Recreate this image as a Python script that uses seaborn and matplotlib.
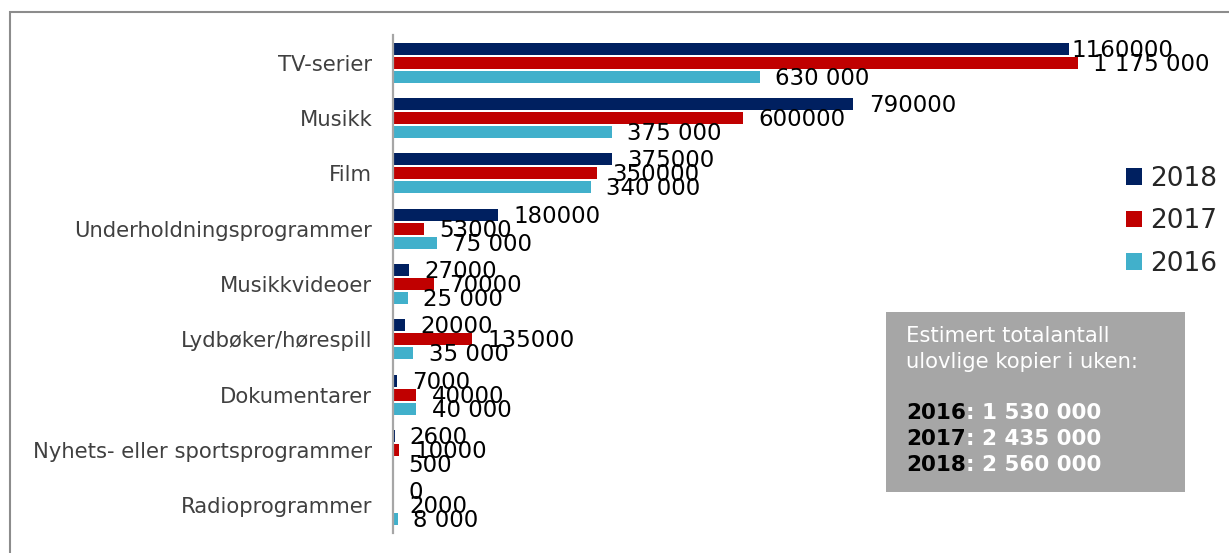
import matplotlib.pyplot as plt
import pandas as pd
import seaborn as sns
from matplotlib.patches import Rectangle
from matplotlib.text import Annotation

categories = [
    "TV-serier",
    "Musikk",
    "Film",
    "Underholdningsprogrammer",
    "Musikkvideoer",
    "Lydbøker/hørespill",
    "Dokumentarer",
    "Nyhets- eller sportsprogrammer",
    "Radioprogrammer",
]
years = ["2018", "2017", "2016"]
v2018 = [1160000, 790000, 375000, 180000, 27000, 20000, 7000, 2600, 0]
v2017 = [1175000, 600000, 350000, 53000, 70000, 135000, 40000, 10000, 2000]
v2016 = [630000, 375000, 340000, 75000, 25000, 35000, 40000, 500, 8000]
lab2018 = ["1160000", "790000", "375000", "180000", "27000", "20000", "7000", "2600", "0"]
lab2017 = ["1 175 000", "600000", "350000", "53000", "70000", "135000", "40000", "10000", "2000"]
lab2016 = ["630 000", "375 000", "340 000", "75 000", "25 000", "35 000", "40 000", "500", "8 000"]
totals = [("2016", "1 530 000"), ("2017", "2 435 000"), ("2018", "2 560 000")]
colors = ["#002060", "#C00000", "#41B0CB"]

values = {"2018": v2018, "2017": v2017, "2016": v2016}
labels = {"2018": lab2018, "2017": lab2017, "2016": lab2016}

df = pd.DataFrame(
    [(c, y, values[y][i]) for y in years for i, c in enumerate(categories)],
    columns=["kategori", "aar", "antall"],
)

sns.set_style("white")
plt.rcParams["font.family"] = ["DejaVu Sans"]

fig = plt.figure(figsize=(12.29, 5.53), dpi=100)
ax = fig.add_axes([393 / 1229, 20 / 553, 816 / 1229, 498 / 553])

sns.barplot(
    data=df, y="kategori", x="antall", hue="aar",
    order=categories, hue_order=years, palette=colors, saturation=1,
    orient="h", width=0.76, gap=0.15, ax=ax, legend=True,
    edgecolor="none",
)

ax.set_xlim(0, 1400000)
ax.set_ylim(len(categories) - 0.5, -0.5)
ax.set_xlabel("")
ax.set_ylabel("")
ax.set_xticks([])
for s in ["top", "right", "bottom"]:
    ax.spines[s].set_visible(False)
ax.spines["left"].set_color("#a6a6a6")
ax.spines["left"].set_linewidth(1.6)
ax.tick_params(axis="y", length=0, pad=15, labelsize=15.2, labelcolor="#404040")

# value labels
for year, cont in zip(years, ax.containers):
    labs = []
    for bar in cont:
        idx = int(round(bar.get_y() + bar.get_height() / 2))
        labs.append(labels[year][idx])
    texts = ax.bar_label(cont, labels=labs, padding=11, fontsize=16.5, color="black")
    for tx in texts:
        tx.xyann = (tx.xyann[0], -1)
    if year == "2018":
        # top label sits close to its bar in the original
        texts[0].xyann = (2, -1)

# legend
handles, _ = ax.get_legend_handles_labels()
ax.legend(
    handles, years, loc="upper left", bbox_to_anchor=(1126 / 1229, 1 - 166 / 553),
    bbox_transform=fig.transFigure, frameon=False, fontsize=19,
    handlelength=0.6, handleheight=0.6, handletextpad=0.3, labelspacing=0.62,
    borderpad=0, borderaxespad=0,
)

# outer frame
fig.patches.append(Rectangle((10 / 1229, -0.2), 1.2, 1.2 - 12 / 553,
                             transform=fig.transFigure, fill=False,
                             edgecolor="#8c8c8c", linewidth=1.5))

# info box
fig.patches.append(Rectangle((886 / 1229, 1 - 492 / 553), 299 / 1229, 180 / 553,
                             transform=fig.transFigure, facecolor="#a6a6a6",
                             edgecolor="none"))
fig.text(906 / 1229, 1 - 336 / 553, "Estimert totalantall", color="white",
         fontsize=15.2, va="center", ha="left")
fig.text(906 / 1229, 1 - 362 / 553, "ulovlige kopier i uken:", color="white",
         fontsize=15.2, va="center", ha="left")
for k, (yr, tot) in enumerate(totals):
    t = fig.text(906 / 1229, 1 - (413 + 26 * k) / 553, yr, color="black",
                 fontsize=15.5, fontweight="bold", va="center", ha="left")
    ann = Annotation(": " + tot, xy=(1, 0), xycoords=t, va="bottom", ha="left",
                     color="white", fontsize=15.5, fontweight="bold")
    fig.add_artist(ann)

fig.savefig("out.png", dpi=100)
